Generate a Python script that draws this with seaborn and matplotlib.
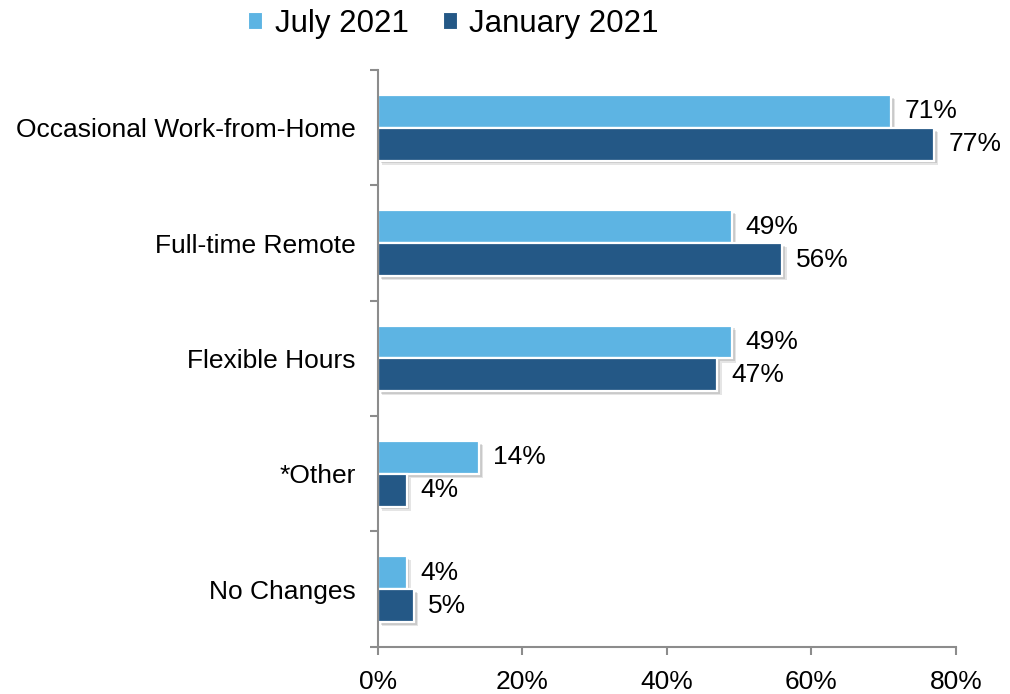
import matplotlib
matplotlib.use("Agg")
import matplotlib.pyplot as plt
import matplotlib.patheffects as pe
from matplotlib.patches import Patch
from matplotlib.ticker import FixedLocator, PercentFormatter
import seaborn as sns
import pandas as pd

categories = ["Occasional Work-from-Home", "Full-time Remote", "Flexible Hours",
              "*Other", "No Changes"]
july_2021 = [71, 49, 49, 14, 4]
january_2021 = [77, 56, 47, 4, 5]
periods = ["July 2021", "January 2021"]
colors = ["#5DB4E3", "#245886"]
x_ticks = [0, 20, 40, 60, 80]

df = pd.DataFrame({
    "category": categories * 2,
    "period": [periods[0]] * len(categories) + [periods[1]] * len(categories),
    "value": july_2021 + january_2021,
})

sns.set_style("white")
plt.rcParams["font.family"] = ["Liberation Sans", "DejaVu Sans"]

fig = plt.figure(figsize=(10.1, 6.94), dpi=100)
ax = fig.add_axes([0.374, 0.068, 0.5725, 0.831])

sns.barplot(data=df, x="value", y="category", hue="period", orient="h",
            order=categories, hue_order=periods, palette=colors, saturation=1,
            width=0.57, edgecolor="white", linewidth=1.6, legend=False,
            errorbar=None, ax=ax)

# soft drop shadow under each bar
shadow = [pe.SimplePatchShadow(offset=(3, -3), shadow_rgbFace="#000000", alpha=0.10),
          pe.SimplePatchShadow(offset=(2, -2), shadow_rgbFace="#000000", alpha=0.12),
          pe.Normal()]
for patch in ax.patches:
    patch.set_path_effects(shadow)

for cont in ax.containers:
    ax.bar_label(cont, labels=[f"{v:.0f}%" for v in cont.datavalues],
                 padding=10, fontsize=19, color="#000000")

ax.set_xlim(0, 80)
ax.set_ylim(len(categories) - 0.5, -0.5)
ax.xaxis.set_major_locator(FixedLocator(x_ticks))
ax.xaxis.set_major_formatter(PercentFormatter(decimals=0))
ax.set_xlabel("")
ax.set_ylabel("")

# category labels centred, tick marks on group boundaries
ax.set_yticks(range(len(categories)))
ax.set_yticklabels(categories)
ax.set_yticks([i - 0.5 for i in range(len(categories) + 1)], minor=True)
ax.tick_params(axis="y", which="major", length=0, pad=16, labelsize=19, labelcolor="#000000")
ax.tick_params(axis="y", which="minor", left=True, length=6, width=1.5, color="#8C8C8C",
               direction="out")
ax.tick_params(axis="x", which="major", bottom=True, length=6, width=1.5, color="#8C8C8C",
               direction="out", pad=11, labelsize=19, labelcolor="#000000")

for side in ["top", "right"]:
    ax.spines[side].set_visible(False)
for side in ["left", "bottom"]:
    ax.spines[side].set_color("#8C8C8C")
    ax.spines[side].set_linewidth(1.5)
ax.grid(False)

handles = [Patch(facecolor=c, edgecolor="white", linewidth=0.8) for c in colors]
fig.legend(handles, periods, loc="center", bbox_to_anchor=(0.449, 0.966), ncol=2,
           frameon=False, fontsize=22.5, handlelength=0.45, handleheight=0.45,
           handletextpad=0.4, columnspacing=1.1, labelcolor="#000000")

fig.savefig("out.png", dpi=100)
